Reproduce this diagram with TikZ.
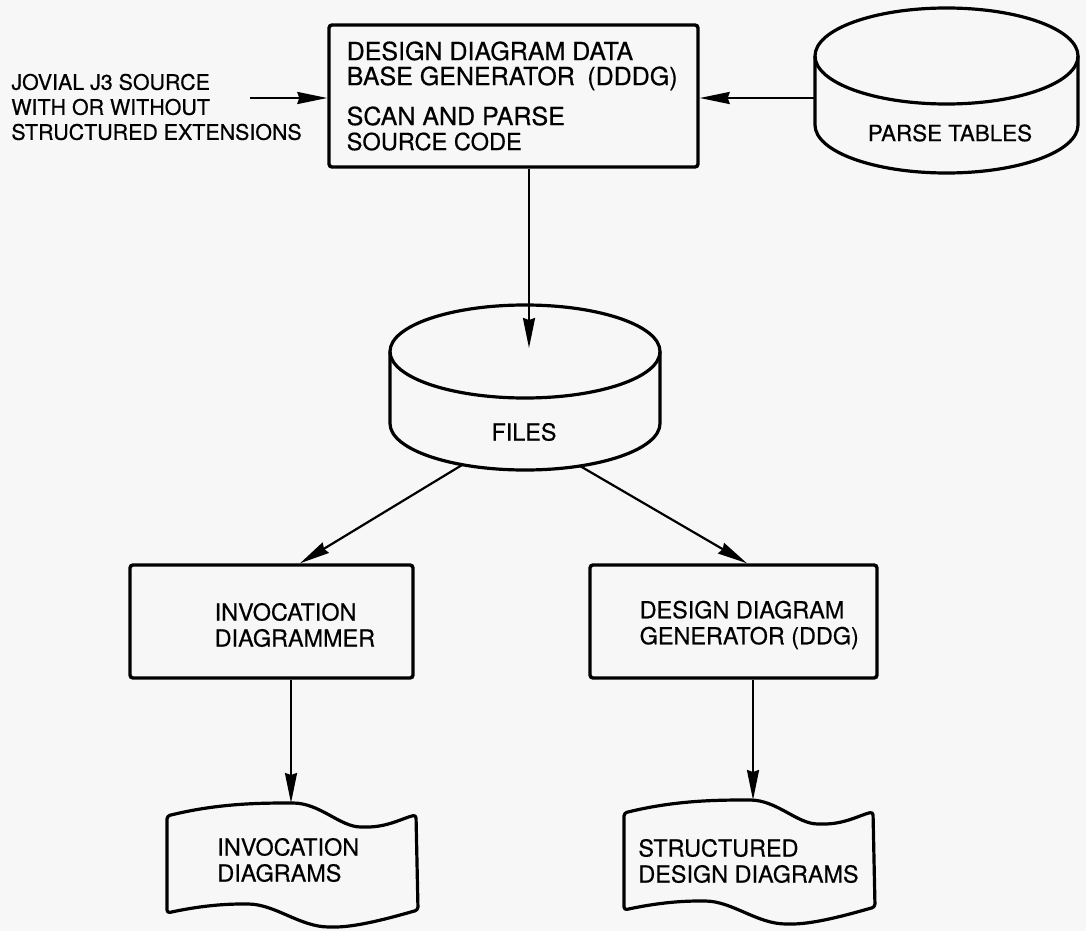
\documentclass[tikz,border=0pt]{standalone}
\usepackage{fontspec}
\setmainfont{TeX Gyre Heros}[FakeBold=0.5]
\usetikzlibrary{arrows.meta,positioning}

\begin{document}
\begin{tikzpicture}[x=0.5pt,y=0.5pt,>={Stealth[length=15pt,width=6pt,inset=1pt]},
		box/.style={draw,line width=1.7pt,rounded corners=1.5pt,inner sep=0pt},
		lbl/.style={align=left,inner sep=0pt,font=\fontsize{11.7}{13}\selectfont},
		flow/.style={->,line width=1.1pt},
		outline/.style={line width=1.6pt,line join=round}]
			\fill[black!3] (0,0) rectangle (1086,-931);
			\node[box,minimum width=184.5pt,minimum height=71pt] (dddg) at (513.5,-96) {};
			\node[lbl,right=9.5pt of dddg.west,font=\fontsize{12.5}{12.5}\selectfont] (dddg-text) {DESIGN DIAGRAM DATA\\BASE GENERATOR\enspace(DDDG)\\[7.5pt]SCAN AND PARSE\\\fontsize{11.8}{12.5}\selectfont SOURCE CODE};
			\node[lbl,anchor=west,font=\fontsize{10.7}{12.5}\selectfont] (source) at (11,-107) {JOVIAL J3 SOURCE\\WITH OR WITHOUT\\STRUCTURED EXTENSIONS};
			\draw[outline] (815,-56) -- (815,-125) arc[start angle=180,end angle=360,x radius=131.5,y radius=48] -- (1078,-56);
			\draw[outline] (946.5,-56) ellipse[x radius=131.5,y radius=48];
			\node[lbl,font=\fontsize{11.2}{13}\selectfont] (parse) at (950,-133) {PARSE TABLES};
			\draw[outline] (390,-351.5) -- (390,-423.5) arc[start angle=180,end angle=360,x radius=135,y radius=46.5] -- (660,-351.5);
			\draw[outline] (525,-351.5) ellipse[x radius=135,y radius=46.5];
			\node[lbl] (files) at (524,-432) {FILES};
			\node[box,minimum width=141.5pt,minimum height=56.5pt] (invdgm) at (271.5,-621.5) {};
			\node[box,minimum width=143.5pt,minimum height=56.5pt] (ddg) at (733.5,-621.5) {};
			\node[lbl,right=43pt of invdgm.west,yshift=-1.75pt] (invdgm-text) {INVOCATION\\DIAGRAMMER};
			\node[lbl,right=25.5pt of ddg.west,yshift=-1.75pt] (ddg-text) {DESIGN DIAGRAM\\GENERATOR (DDG)};
			\foreach \dx/\dy in {0/0,457/3}
				\draw[outline,rounded corners=1.5pt,shift={(\dx,\dy)}] (167,-816)
					.. controls (215,-804) and (255,-803) .. (290,-803)
					.. controls (320,-803) and (340,-827) .. (364,-827)
					.. controls (388,-827) and (403,-818) .. (416,-815)
					-- (418,-910)
					.. controls (400,-915) and (360,-927) .. (332,-927)
					.. controls (300,-927) and (275,-904) .. (245,-904)
					.. controls (215,-904) and (190,-908) .. (167,-913) -- cycle;
			\node[lbl,anchor=west] (invd) at (217,-860) {INVOCATION\\DIAGRAMS};
			\node[lbl,anchor=west] (sdd) at (638,-861) {STRUCTURED\\DESIGN DIAGRAMS};
			\coordinate (src-out) at (250,-98);
			\coordinate (parse-out) at (815,-98);
			\coordinate (files-in) at (529,-348);
			\coordinate (files-l) at (462,-465);
			\coordinate (files-r) at (580,-466);
			\coordinate (invd-top) at (291,-803);
			\coordinate (sdd-top) at (753,-800);
			\draw[flow] (src-out) -- (src-out -| dddg.west);
			\draw[flow] (parse-out) -- (parse-out -| dddg.east);
			\draw[flow] (files-in |- dddg.south) -- (files-in);
			\draw[flow] (files-l) -- ([xshift=14.25pt]invdgm.north);
			\draw[flow] (files-r) -- ([xshift=6.75pt]ddg.north);
			\draw[flow] (invd-top |- invdgm.south) -- (invd-top);
			\draw[flow] (sdd-top |- ddg.south) -- (sdd-top);
		\end{tikzpicture}
\end{document}
